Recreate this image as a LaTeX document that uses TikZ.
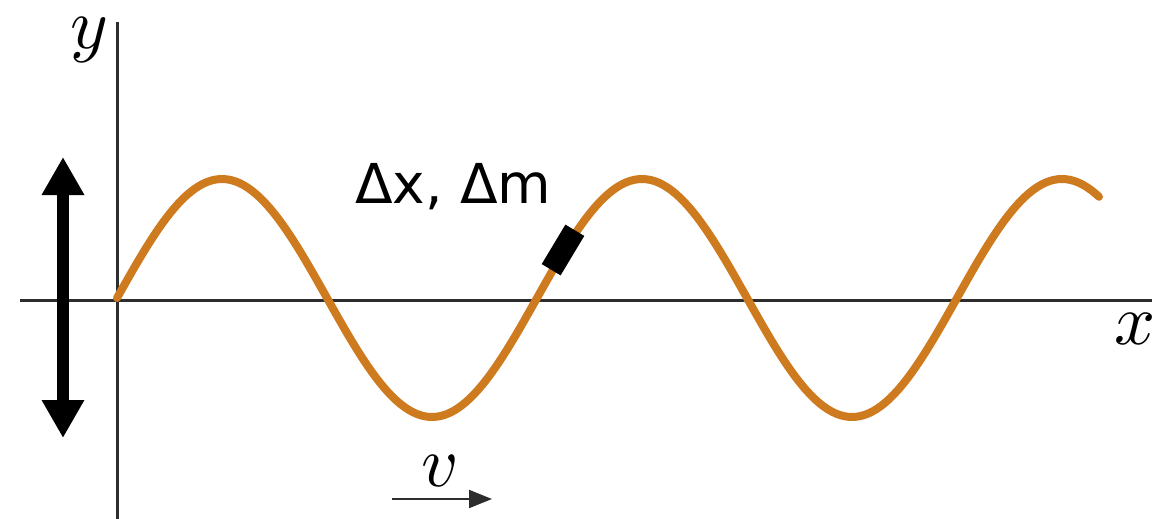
\documentclass[tikz,border=0pt]{standalone}
\usepackage{fontspec}
\usepackage{xcolor}
\usepackage{tikz}
\usetikzlibrary{arrows.meta}
\newfontfamily\labelfont{DejaVu Sans}
\definecolor{waveorange}{RGB}{206,122,30}
\definecolor{axisgray}{RGB}{45,45,45}

\begin{document}
\begin{tikzpicture}[x=1pt, y=-1pt,
  axis/.style={draw=axisgray, line width=3pt},
  wave/.style={draw=waveorange, line width=8pt},
  mathlab/.style={inner sep=0pt, scale=7.2},
  every node/.style={font=\normalsize}]
\useasboundingbox (0,0) rectangle (1160,519);
% axes
\coordinate (ytop) at (117,22); \coordinate (ybot) at (117,519);
\coordinate (xleft) at (20,300); \coordinate (xright) at (1152,300);
\draw[axis] (ytop)--(ybot);
\draw[axis] (xleft)--(xright);
\node[mathlab] (ylab) at (89,40) {$y$};
\node[mathlab] (xlab) at (1135,329) {$x$};
% the string
\draw[wave, line cap=round] plot[domain=0:982, samples=240] ({117+\x}, {298-119*sin(\x*6/7)});
\node[fill=black, inner sep=0pt, minimum width=46pt, minimum height=22pt, rotate=59] (elem) at (563,250) {};
\node[anchor=base west, inner sep=0pt, font=\labelfont\fontsize{55}{60}\selectfont] (lab) at (355,203) {Δx, Δm};
% transverse motion
\coordinate (up) at (63,157); \coordinate (dn) at (63,438);
\draw[line width=12pt, {Triangle[length=38pt,width=40pt]}-{Triangle[length=38pt,width=40pt]}] (up)--(dn);
% wave speed
\coordinate (vs) at (392,499); \coordinate (ve) at (492,499);
\draw[draw=axisgray, line width=2pt, -{Triangle[length=23pt,width=18pt]}] (vs)--(ve);
\node[mathlab] (vlab) at (440,471) {$v$};
\end{tikzpicture}
\end{document}
